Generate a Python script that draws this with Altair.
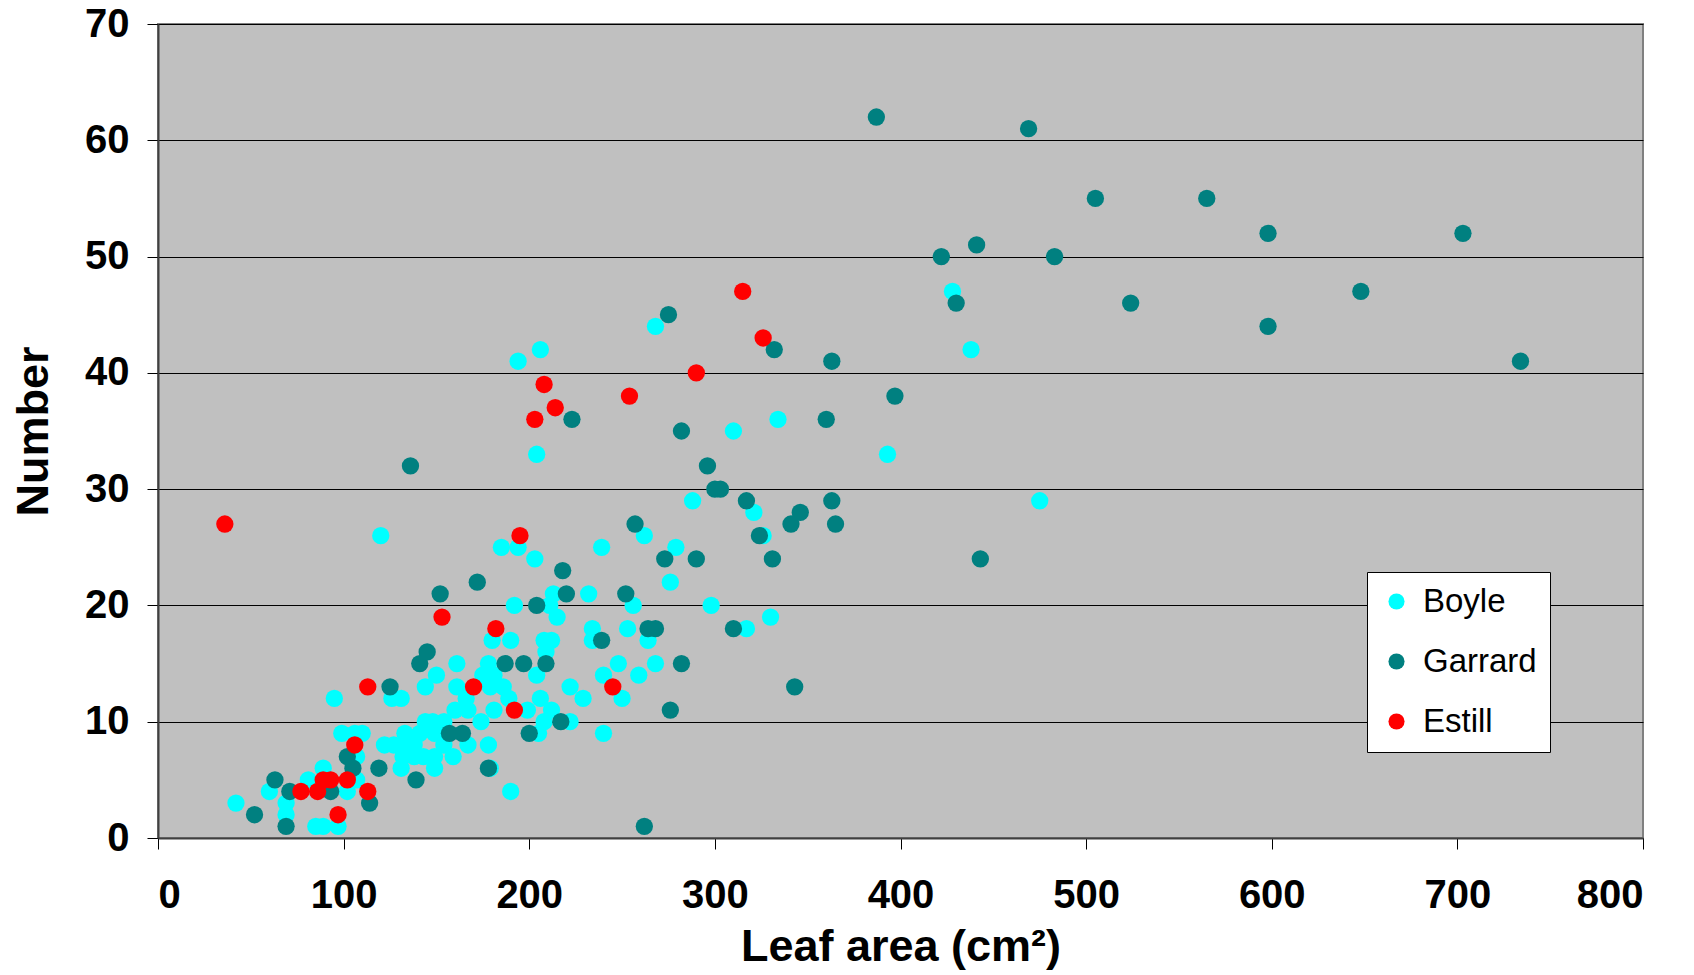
import altair as alt
import pandas as pd

# ---- data ----
boyle_x = [42, 60, 69, 69, 85, 89, 97, 81, 89, 95, 99, 106, 110, 107, 107, 102,
           122, 127, 133, 138, 154, 126, 131, 133, 141, 149, 155, 132, 138, 143, 149, 159,
           131, 149, 179, 144, 148, 154, 174, 144, 150, 161, 161, 160, 166, 167, 167, 178,
           175, 181, 179, 186, 189, 181, 199, 206, 204, 208, 212, 222, 222, 229, 205, 240,
           190, 180, 190, 208, 212, 209, 178, 234, 234, 253, 264, 248, 268, 240, 259, 250,
           192, 211, 215, 256, 213, 232, 276, 203, 185, 194, 239, 279, 120, 262, 288, 326,
           321, 298, 317, 330, 310, 334, 393, 204, 194, 206, 268, 428, 438, 475]
boyle_y = [3, 4, 3, 2, 1, 1, 1, 5, 6, 12, 9, 9, 9, 7, 5, 4,
           8, 8, 8, 8, 8, 12, 12, 9, 9, 9, 9, 7, 7, 7, 7, 7,
           6, 6, 6, 10, 10, 10, 10, 13, 14, 13, 15, 11, 12, 11, 8, 8,
           14, 14, 13, 13, 12, 11, 11, 12, 14, 10, 11, 10, 13, 12, 9, 9,
           4, 17, 17, 17, 17, 16, 15, 17, 18, 18, 17, 15, 15, 14, 14, 12,
           20, 20, 19, 20, 21, 21, 22, 24, 25, 25, 25, 25, 26, 26, 29, 26,
           28, 20, 18, 19, 35, 36, 33, 33, 41, 42, 44, 47, 42, 29]

garrard_x = [52, 63, 69, 71, 93, 102, 105, 114, 119, 125, 139, 141, 145, 157, 164, 178,
             200, 217, 187, 197, 209, 239, 282, 276, 262, 264, 268, 310, 343, 136, 152, 172,
             218, 220, 204, 252, 257, 273, 290, 223, 282, 275, 296, 300, 303, 317, 324, 331,
             341, 346, 363, 365, 332, 360, 363, 397, 422, 430, 441, 443, 387, 469, 505, 565,
             598, 703, 483, 524, 648, 598, 734]
garrard_y = [2, 5, 1, 4, 4, 7, 6, 3, 6, 13, 5, 15, 16, 9, 9, 6,
             9, 10, 15, 15, 15, 17, 15, 11, 1, 18, 18, 18, 13, 32, 21, 22,
             23, 21, 20, 21, 27, 24, 24, 36, 35, 45, 32, 30, 30, 29, 26, 24,
             27, 28, 29, 27, 42, 36, 41, 38, 50, 46, 51, 24, 62, 61, 55, 55,
             52, 52, 50, 46, 47, 44, 41]

estill_x = [36, 77, 86, 89, 93, 97, 102, 106, 113, 113, 153, 170, 182, 192, 195, 203,
            208, 214, 245, 254, 290, 315, 326]
estill_y = [27, 4, 4, 5, 5, 2, 5, 8, 13, 4, 19, 13, 18, 11, 26, 36,
            39, 37, 13, 38, 40, 47, 43]

series_names = ["Boyle", "Garrard", "Estill"]
series_colors = ["#00FFFF", "#008080", "#FF0000"]
x_ticks = [0, 100, 200, 300, 400, 500, 600, 700, 800]
y_ticks = [0, 10, 20, 30, 40, 50, 60, 70]

frames = []
for i, (name, xs, ys) in enumerate(zip(series_names,
                                        [boyle_x, garrard_x, estill_x],
                                        [boyle_y, garrard_y, estill_y])):
    frames.append(pd.DataFrame({"area": xs, "number": ys, "series": name, "ord": i}))
df = pd.concat(frames, ignore_index=True)

FONT = "Liberation Sans"

chart = alt.Chart(df).mark_circle(size=300, opacity=1).encode(
    x=alt.X("area:Q",
            scale=alt.Scale(domain=[0, 800], nice=False),
            axis=alt.Axis(values=x_ticks, grid=False, title="Leaf area (cm²)",
                          labelFontSize=40, labelFontWeight="bold", labelFont=FONT,
                          labelPadding=26, tickSize=11, tickColor="black",
                          domainColor="#404040", domainWidth=2,
                          titleFontSize=45, titleFontWeight="bold", titleFont=FONT,
                          titleBaseline="alphabetic", titleY=122,
                          labelColor="black", titleColor="black")),
    y=alt.Y("number:Q",
            scale=alt.Scale(domain=[0, 70], nice=False),
            axis=alt.Axis(values=y_ticks, grid=True, gridColor="black", gridWidth=1,
                          title="Number",
                          labelFontSize=40, labelFontWeight="bold", labelFont=FONT,
                          labelPadding=18, tickSize=11, tickColor="black",
                          domainColor="#404040", domainWidth=2,
                          titleFontSize=45, titleFontWeight="bold", titleFont=FONT,
                          titleAngle=270, titleBaseline="alphabetic", titleAlign="center",
                          titleX=-111, titleY=407,
                          labelColor="black", titleColor="black")),
    color=alt.Color("series:N",
                    scale=alt.Scale(domain=series_names, range=series_colors),
                    sort=series_names,
                    title=None,
                    legend=alt.Legend(orient="none", legendX=1209, legendY=548,
                                      fillColor="white", strokeColor="black",
                                      padding=13, labelFontSize=33, labelFont=FONT,
                                      labelColor="black", symbolSize=260,
                                      symbolType="circle", symbolStrokeWidth=0,
                                      labelOffset=10, rowPadding=26, labelLimit=300)),
    order=alt.Order("ord:Q"),
).properties(
    width=1485, height=814,
    padding={"left": 150, "top": 16, "right": 40, "bottom": 132},
    autosize=alt.AutoSizeParams(type="none"),
    background="white",
).configure_view(
    fill="#C0C0C0", stroke="#808080", strokeWidth=2,
)

chart.save("out.html", embed_options={"renderer": "svg", "actions": False})
